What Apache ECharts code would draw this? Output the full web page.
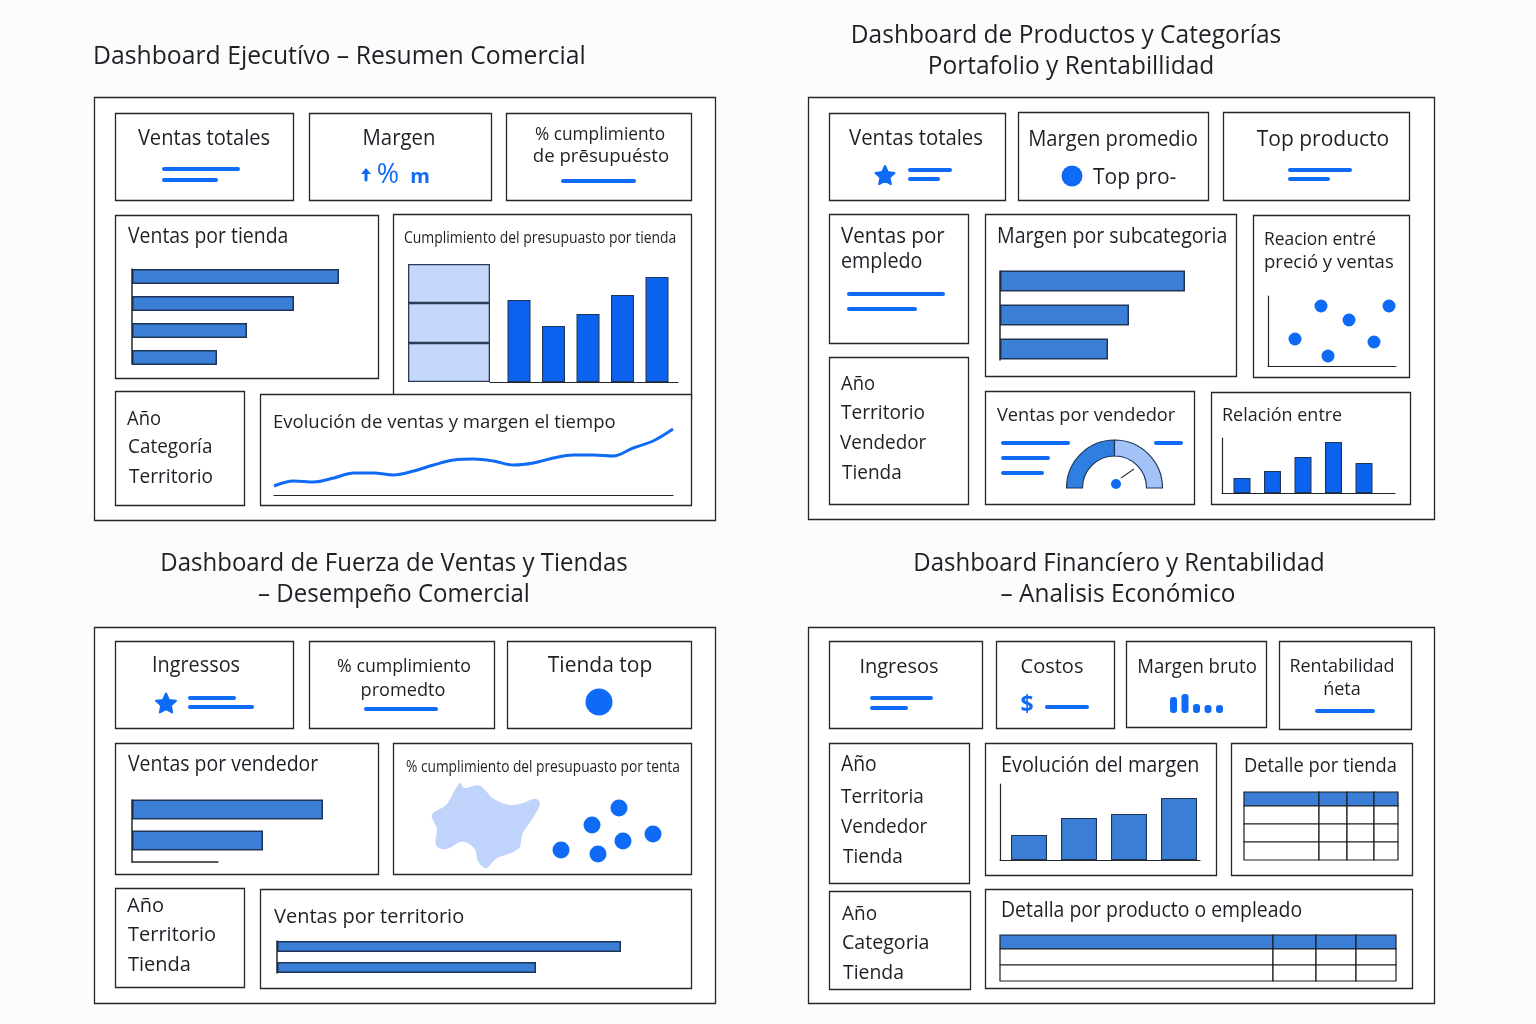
<!DOCTYPE html>
<html><head><meta charset="utf-8">
<style>html,body{margin:0;padding:0;background:#fcfcfd}#c{width:1536px;height:1024px}</style>
<script src="https://cdn.jsdelivr.net/npm/echarts@6/dist/echarts.min.js"></script>
</head><body><div id="c"></div>
<script>
// ---------- DATA ----------
const ventasPorTienda = [207, 162, 115, 85];
const presupuestoBloques = [39, 40, 39];
const cumplimientoPorTienda = [82, 56, 68, 87, 105];
const evolucionVentas = [9, 14, 13, 17, 22, 22, 20, 24, 30, 35, 36, 34, 30, 32, 37, 40, 40, 39, 47, 54, 66];
const margenPorSubcategoria = [185, 129, 108];
const precioVentasPuntos = [[53, 60], [121, 60], [81, 46], [27, 27], [106, 24], [60, 10]];
const gaugeValores = [50, 50];
const relacionBarras = [15, 22, 36, 51, 30];
const ventasPorVendedor = [191, 131];
const tiendaPuntos = [[69, 52], [42, 35], [103, 26], [73, 19], [11, 10], [48, 6]];
const regionContorno = [[920,475],[930,490],[965,482],[985,500],[1000,520],[1040,540],[1075,535],[1105,522],[1118,535],[1100,580],[1075,625],[1065,670],[1010,700],[985,728],[965,710],[955,670],[925,650],[885,672],[860,660],[862,610],[850,570],[885,540],[905,500]];
const ventasPorTerritorio = [344, 259];
const margenMiniBarras = [16, 19, 9, 8, 8];
const evolucionMargen = [25, 42, 46, 62];
const detalleTiendaColumnas = [75, 28, 27, 24];
const detalleTiendaFilas = [14, 18, 18, 18];
const detalleProductoColumnas = [273, 43, 40, 40];
const detalleProductoFilas = [14, 16, 16];

// ---------- STYLE ----------
const FONT = '"Open Sans","Noto Sans",sans-serif';
const INK = '#1d2126', EDGE = '#23272c', BLUE = '#0f6bf5', BAR = '#3a7fd5', BARV = '#0b62ee', BARE = '#1e3557', LIGHT = '#c5d7fb';

const grids = [], xAxes = [], yAxes = [], series = [], g = [];
function rect(x0, y0, x1, y1) { g.push({type:'rect', z:0, shape:{x:x0+0.5, y:y0+0.5, width:x1-x0, height:y1-y0}, style:{fill:'#fff', stroke:EDGE, lineWidth:1.3}}); }
function txt(s, x, y, size, align, sx, color, weight) {
  g.push({type:'text', z:5, x, y:y+1.5, scaleX:sx||1, style:{text:s, x:0, y:0, fill:color||INK, font:(weight||'400')+' '+size+'px '+FONT, textAlign:align||'left', textVerticalAlign:'middle'}});
}
function ln(x0, y0, x1, y1, w, c) { g.push({type:'line', z:5, shape:{x1:x0, y1:y0, x2:x1, y2:y1}, style:{stroke:c||BLUE, lineWidth:w||4, lineCap:'round'}}); }
function dot(x, y, r) { g.push({type:'circle', z:5, shape:{cx:x, cy:y, r}, style:{fill:BLUE}}); }
function star(cx, cy, R) {
  const pts = [];
  for (let i = 0; i < 10; i++) { const r = i%2 ? R*0.48 : R, a = -Math.PI/2 + i*Math.PI/5; pts.push([cx+r*Math.cos(a), cy+r*Math.sin(a)]); }
  g.push({type:'polygon', z:5, shape:{points:pts}, style:{fill:BLUE, stroke:BLUE, lineWidth:2, lineJoin:'round'}});
}
function addGrid(x0, y0, x1, y1, xa, ya) {
  const i = grids.length;
  grids.push({left:x0, top:y0, width:x1-x0, height:y1-y0, containLabel:false});
  const hidden = {axisLabel:{show:false}, axisTick:{show:false}, splitLine:{show:false}, axisLine:{show:false}};
  xAxes.push(Object.assign({gridIndex:i, type:'value'}, hidden, xa));
  yAxes.push(Object.assign({gridIndex:i, type:'value'}, hidden, ya));
  return i;
}
const AX = {show:true, onZero:false, lineStyle:{color:EDGE, width:1.2}};
function hbars(values, x0, maxV, top, height, bw, axisTop, axisBottom) {
  const i = addGrid(x0, top, x0+maxV, top+height, {min:0, max:maxV}, {type:'category', inverse:true, data:values.map((_, k)=>'F'+(k+1))});
  series.push({type:'bar', xAxisIndex:i, yAxisIndex:i, data:values, barWidth:bw, silent:true, itemStyle:{color:BAR, borderColor:BARE, borderWidth:1.5}});
  ln(x0, axisTop, x0, axisBottom, 1.5, EDGE);
}
function vbars(values, x0, x1, y0, y1, first, step, bw, color, opts) {
  opts = opts || {};
  const min = -(first-x0)/step, max = min + (x1-x0)/step;
  const i = addGrid(x0, y0, x1, y1, {min, max, axisLine:opts.noAxis?{show:false}:AX}, {min:0, max:y1-y0, axisLine:opts.yAxis?AX:{show:false}});
  series.push({type:'bar', xAxisIndex:i, yAxisIndex:i, barWidth:bw, silent:true, data:values.map((v,k)=>[k,v]),
    itemStyle:{color, borderColor:opts.noBorder?color:BARE, borderWidth:opts.noBorder?0:1.1, borderRadius:opts.radius||0}});
}
function table(cols, rows, x0, y0, x1, y1) {
  const sx = cols.reduce((a,b)=>a+b,0), sy = rows.reduce((a,b)=>a+b,0), cells = [];
  let ya = 0;
  rows.forEach((h, r) => { let xa = 0; cols.forEach(w => { cells.push([xa, xa+w, ya, ya+h, r===0?1:0]); xa += w; }); ya += h; });
  const i = addGrid(x0, y0, x1, y1, {min:0, max:sx}, {min:0, max:sy, inverse:true});
  series.push({type:'custom', xAxisIndex:i, yAxisIndex:i, silent:true, data:cells, encode:{x:[0,1], y:[2,3]}, clip:false,
    renderItem:(p, api) => {
      const a = api.coord([api.value(0), api.value(2)]), b = api.coord([api.value(1), api.value(3)]);
      return {type:'rect', shape:{x:a[0], y:a[1], width:b[0]-a[0], height:b[1]-a[1]},
        style:{fill:api.value(4)?BAR:'#fff', stroke:'#1a1e23', lineWidth:1.2}};
    }});
}

// ---------- DASHBOARD 1 ----------
txt('Dashboard Ejecutívo – Resumen Comercial', 93, 55, 25,'left',0.99);
rect(94,97,715,520);
rect(115,113,293,200); txt('Ventas totales',204,138,21,'center',0.957); ln(164,169,238,169); ln(164,180,216,180);
rect(309,113,491,200); txt('Margen',399,138,21,'center',0.97);
ln(366,180,366,172,3); g.push({type:'polygon',z:5,shape:{points:[[361,174],[366,168],[371,174]]},style:{fill:BLUE}});
txt('%',388,174,27,'center',1,BLUE); txt('m',420,176,20,'center',1,BLUE,'700');
rect(506,113,691,200); txt('% cumplimiento',600,133,19,'center',0.91); txt('de prēsupuésto',601,155,19,'center',0.98); ln(563,181,634,181);
rect(115,215,378,378); txt('Ventas por tienda',128,236,21,'left',0.925);
hbars(ventasPorTienda,132,207,263,108,15,269,364);
rect(393,214,691,400); txt('Cumplimiento del presupuasto por tienda',404,237,16,'left',0.872);
{ const i = addGrid(408,264,490,382,{type:'category',data:['P']},{min:0,max:118});
  presupuestoBloques.forEach((v,k)=>series.push({type:'bar',xAxisIndex:i,yAxisIndex:i,stack:'p',data:[v],barWidth:'100%',silent:true,itemStyle:{color:LIGHT,borderColor:'#2b3a55',borderWidth:1.3}})); }
vbars(cumplimientoPorTienda,490,678,264,382,519,34.5,23,BARV);
rect(115,391,244,505); txt('Año',127,418,20,'left',0.92); txt('Categoría',128,446,20,'left',0.945); txt('Territorio',129,476,20,'left',0.955);
rect(260,394,691,505); txt('Evolución de ventas y margen el tiempo',273,421,19,'left',0.975);
{ const i = addGrid(274,425,673,495,{type:'category',boundaryGap:false,data:evolucionVentas.map((_,k)=>'P'+k),axisLine:AX},{min:0,max:70});
  series.push({type:'line',xAxisIndex:i,yAxisIndex:i,data:evolucionVentas,smooth:0.35,showSymbol:false,silent:true,lineStyle:{color:BLUE,width:3}}); }

// ---------- DASHBOARD 2 ----------
txt('Dashboard de Productos y Categorías',1066,34,25,'center',0.98); txt('Portafolio y Rentabillidad',1071,65,25,'center',0.98);
rect(808,97,1434,519);
rect(829,113,1005,200); txt('Ventas totales',916,138,21,'center',0.97); star(885,176,10); ln(910,170,950,170); ln(910,179,938,179);
rect(1018,112,1208,200); txt('Margen promedio',1113,139,21,'center',0.96); dot(1072,176,10.5); txt('Top pro-',1093,177,21);
rect(1223,112,1409,200); txt('Top producto',1323,139,21,'center'); ln(1290,170,1350,170); ln(1290,179,1328,179);
rect(829,214,968,343); txt('Ventas por',841,236,21,'left',0.98); txt('empledo',841,261,21,'left',0.94); ln(849,294,943,294); ln(849,309,915,309);
rect(985,214,1236,376); txt('Margen por subcategoria',997,236,21,'left',0.935);
hbars(margenPorSubcategoria,1000,185,264,102,21,271,360);
rect(1253,215,1409,377); txt('Reacion entré',1264,238,18,'left',0.965); txt('preció y ventas',1264,261,18,'left',1.03);
{ const i = addGrid(1268,296,1396,366,{min:0,max:128,axisLine:AX},{min:0,max:70,axisLine:AX});
  series.push({type:'scatter',xAxisIndex:i,yAxisIndex:i,data:precioVentasPuntos,symbolSize:13,silent:true,clip:false,itemStyle:{color:BLUE,opacity:1}}); }
rect(829,357,968,504); txt('Año',841,383,20,'left',0.92); txt('Territorio',841,412,20,'left',0.955); txt('Vendedor',840,442,20,'left',0.945); txt('Tienda',842,472,20,'left',0.95);
rect(985,391,1194,504); txt('Ventas por vendedor',997,414,19,'left',0.96);
ln(1003,443,1068,443); ln(1003,458,1048,458); ln(1003,473,1042,473); ln(1156,443,1181,443);
series.push({type:'pie',center:[1114.5,488],radius:[32,48],startAngle:180,silent:true,label:{show:false},labelLine:{show:false},
  data:[{value:gaugeValores[0],name:'a',itemStyle:{color:'#2f7fe0',borderColor:BARE,borderWidth:1.2}},
        {value:gaugeValores[1],name:'b',itemStyle:{color:'#a3c3f8',borderColor:BARE,borderWidth:1.2}},
        {value:gaugeValores[0]+gaugeValores[1],name:'c',itemStyle:{color:'transparent',borderWidth:0}}]});
g.push({type:'line',z:5,shape:{x1:1121,y1:478,x2:1134,y2:469},style:{stroke:'#333',lineWidth:1.1}}); dot(1116,484,5);
rect(1211,392,1410,504); txt('Relación entre',1222,414,19,'left',0.945);
vbars(relacionBarras,1222,1395,438,493,1242,30.5,17,BARV,{yAxis:true});

// ---------- DASHBOARD 3 ----------
txt('Dashboard de Fuerza de Ventas y Tiendas',394,562,25,'center',0.96); txt('– Desempeño Comercial',394,593,25,'center',0.96);
rect(94,627,715,1003);
rect(115,641,293,728); txt('Ingressos',196,665,21,'center',0.945); star(166,704,10.5); ln(190,698,234,698); ln(190,707,252,707);
rect(309,641,494,728); txt('% cumplimiento',404,665,19,'center',0.935); txt('promedto',403,689,19,'center',0.955); ln(366,709,436,709);
rect(507,641,691,728); txt('Tienda top',600,665,21,'center'); dot(599,702,13.5);
rect(115,743,378,874); txt('Ventas por vendedor',128,764,21,'left',0.927);
hbars(ventasPorVendedor,132,191,794,62,20,800,862);
ln(132,862,218,862,1.3,EDGE);
rect(393,743,691,874); txt('% cumplimiento del presupuasto por tenta',406,766,16,'left',0.858);
{ const i = addGrid(432,783,540,868,{min:850,max:1118},{min:475,max:728,inverse:true});
  series.push({type:'custom',xAxisIndex:i,yAxisIndex:i,silent:true,data:[[985,600]],clip:false,
    renderItem:(p,api)=>({type:'polygon',shape:{points:regionContorno.map(c=>api.coord(c)),smooth:0.35},style:{fill:'#c0d4fb'}})}); }
{ const i = addGrid(550,800,660,860,{min:0,max:110},{min:0,max:60});
  series.push({type:'scatter',xAxisIndex:i,yAxisIndex:i,data:tiendaPuntos,symbolSize:17,silent:true,clip:false,itemStyle:{color:BLUE,opacity:1}}); }
rect(115,888,244,987); txt('Año',127,905,20); txt('Territorio',128,934,20); txt('Tienda',128,964,20);
rect(260,889,691,988); txt('Ventas por territorio',274,916,20);
hbars(ventasPorTerritorio,277,344,936,42,11,941,973);

// ---------- DASHBOARD 4 ----------
txt('Dashboard Financíero y Rentabilidad',1119,562,25,'center',0.96); txt('– Analisis Económico',1118,593,25,'center',0.975);
rect(808,627,1434,1003);
rect(829,641,982,728); txt('Ingresos',899,666,20,'center'); ln(872,698,931,698); ln(872,708,906,708);
rect(996,641,1114,728); txt('Costos',1052,666,20,'center'); txt('$',1027,704,23,'center',1,BLUE,'700'); ln(1047,707,1087,707);
rect(1126,641,1266,727); txt('Margen bruto',1197,666,20,'center',0.93);
vbars(margenMiniBarras,1168,1224,694,713,1173.5,11.5,7,BLUE,{noAxis:true,noBorder:true,radius:3});
rect(1279,641,1411,729); txt('Rentabilidad',1342,665,19,'center',0.945); txt('ńeta',1342,688,19,'center',0.95); ln(1317,711,1373,711);
rect(829,743,969,883); txt('Año',841,764,21,'left',0.92); txt('Territoria',841,796,20,'left',0.95); txt('Vendedor',841,826,20,'left',0.945); txt('Tienda',843,856,20,'left',0.95);
rect(985,743,1216,875); txt('Evolución del margen',1001,765,21,'left',0.943);
vbars(evolucionMargen,1000,1200,784,860,1029,50,36,BAR,{yAxis:true});
rect(1231,743,1412,875); txt('Detalle por tienda',1244,765,20,'left',0.915);
table(detalleTiendaColumnas,detalleTiendaFilas,1244,792,1398,860);
rect(829,891,970,989); txt('Año',842,913,20,'left',0.95); txt('Categoria',842,942,20,'left',0.98); txt('Tienda',843,972,20,'left',0.97);
rect(985,889,1412,988); txt('Detalla por producto o empleado',1001,910,21,'left',0.926);
table(detalleProductoColumnas,detalleProductoFilas,1000,935,1396,981);

const chart = echarts.init(document.getElementById('c'), null, {width:1536, height:1024, renderer:'canvas'});
chart.setOption({animation:false, backgroundColor:'#fcfcfd', textStyle:{fontFamily:FONT}, tooltip:{show:false},
  grid:grids, xAxis:xAxes, yAxis:yAxes, series, graphic:{elements:g}});
</script></body></html>
